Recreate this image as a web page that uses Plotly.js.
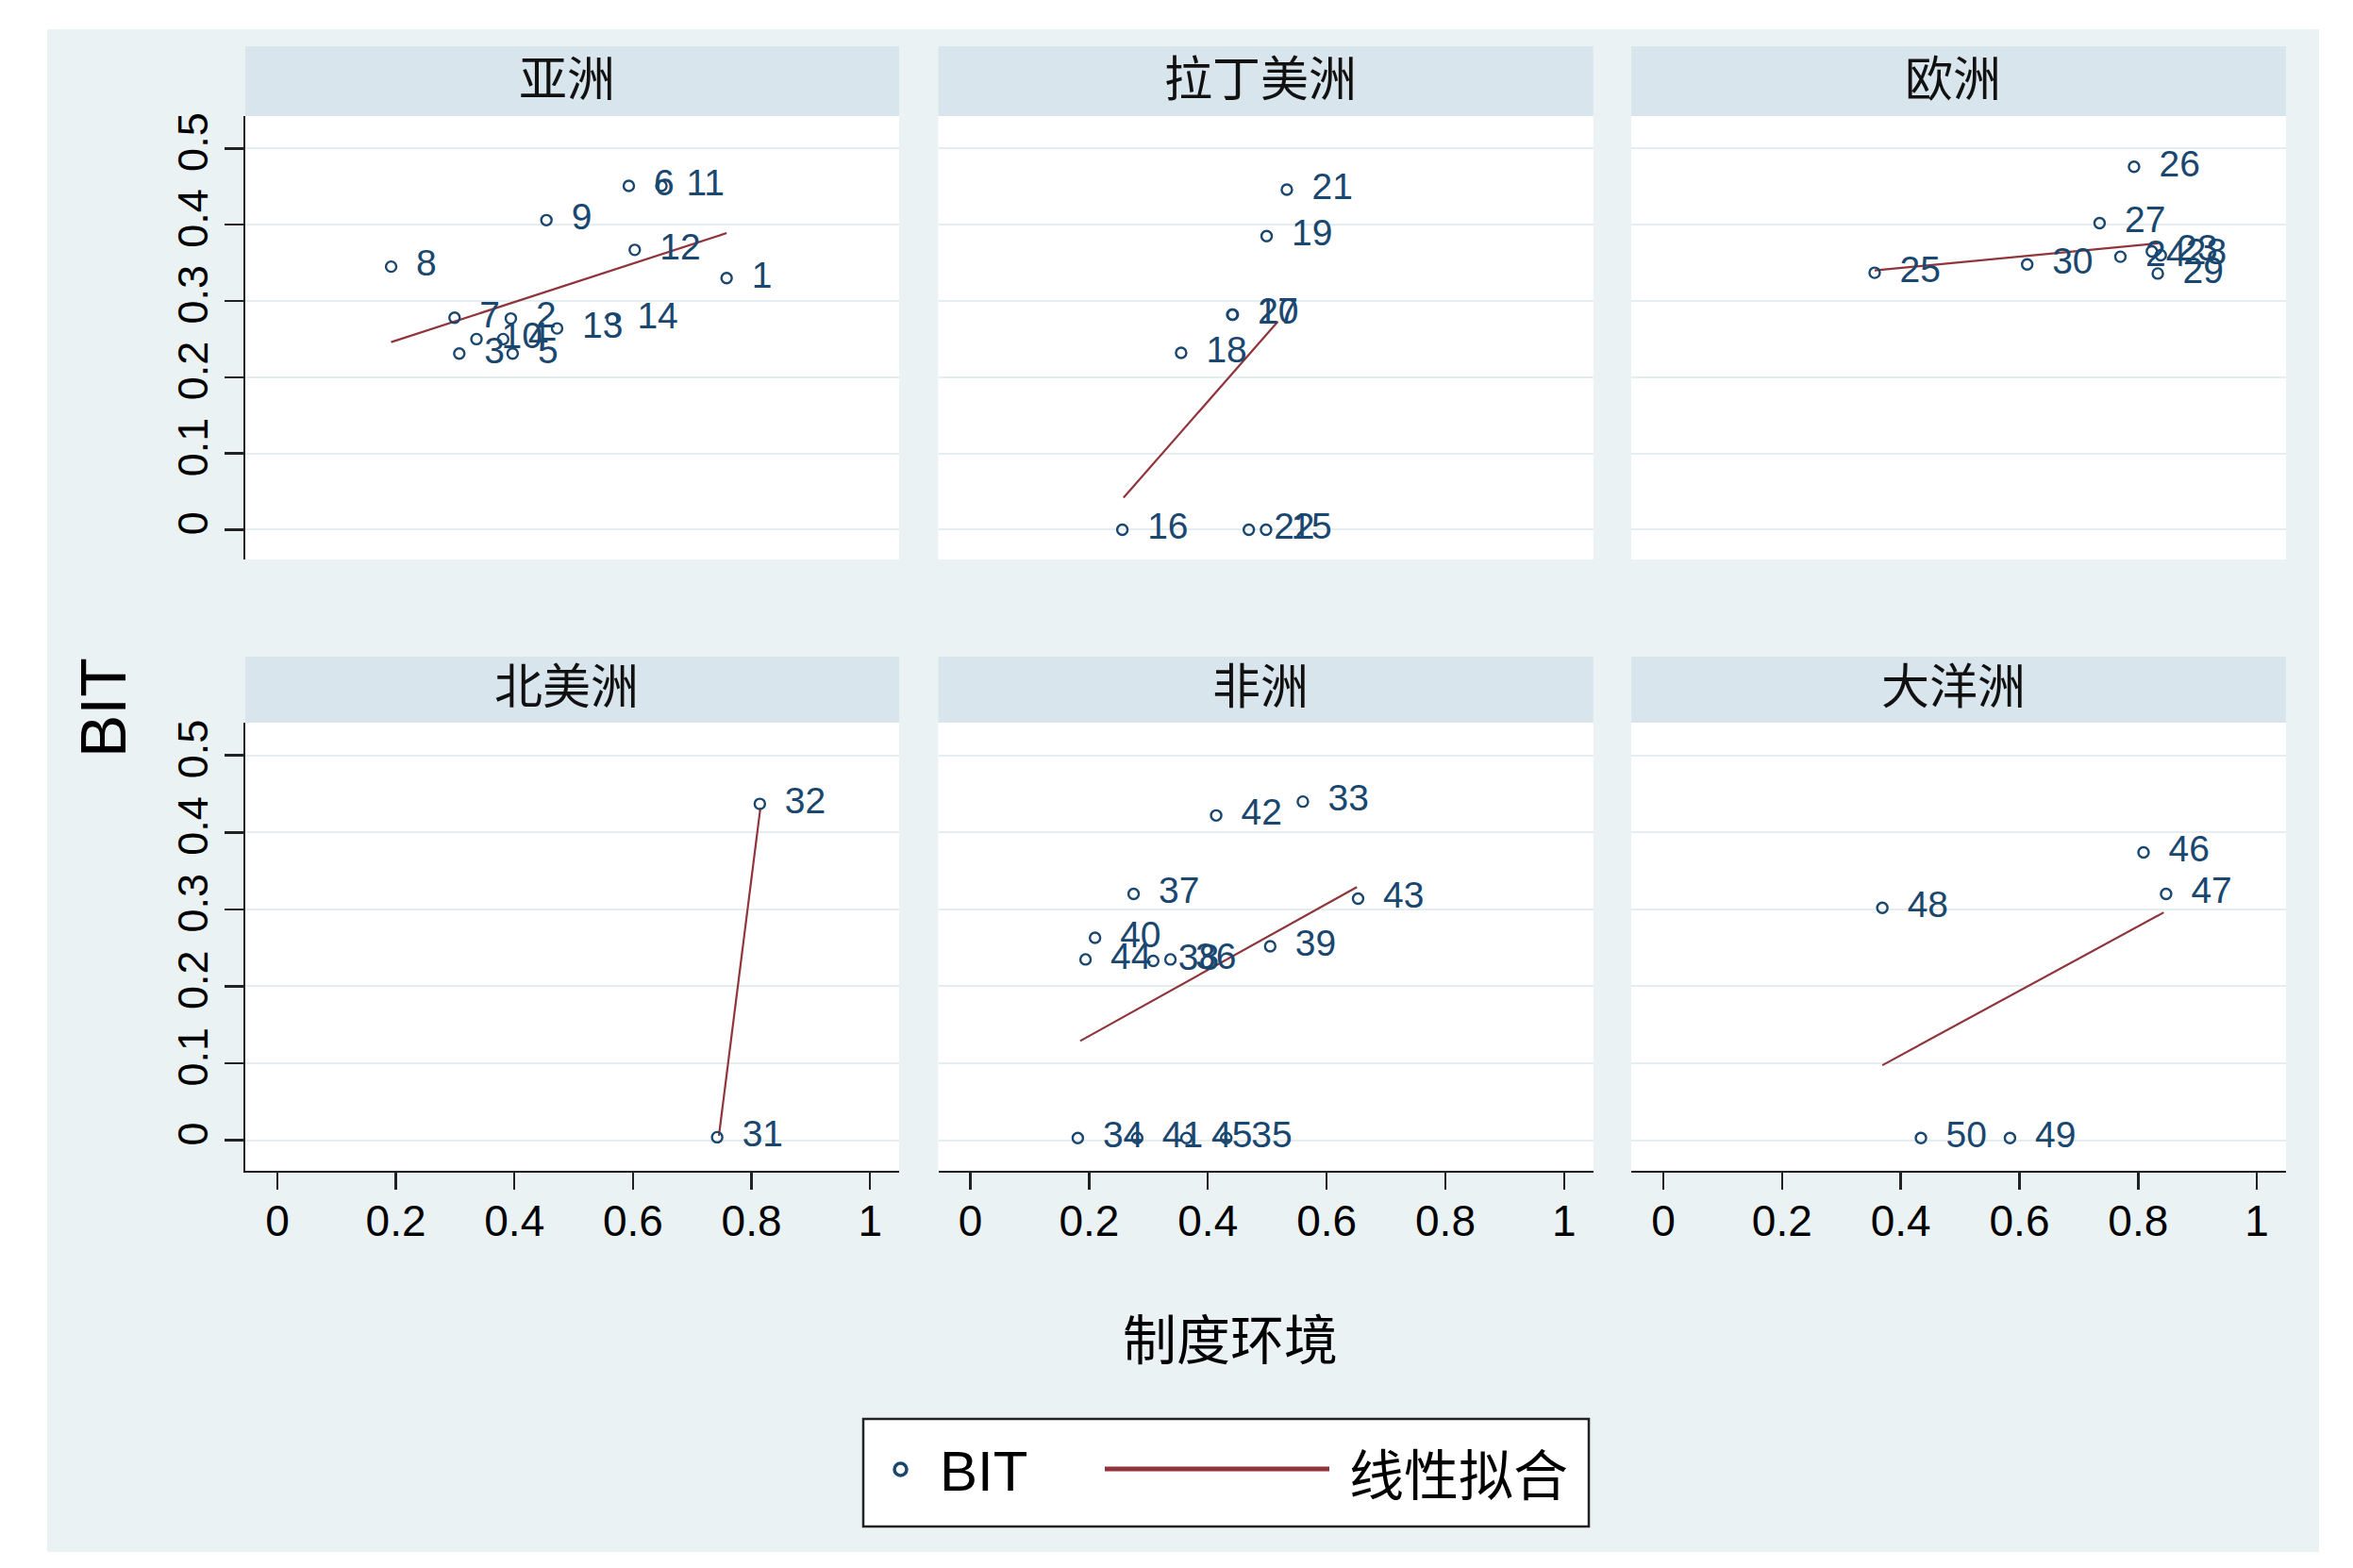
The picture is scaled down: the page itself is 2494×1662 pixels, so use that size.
<!DOCTYPE html>
<html>
<head>
<meta charset="utf-8">
<script src="https://cdn.plot.ly/plotly-3.0.1.min.js"></script>
<style>html,body{margin:0;padding:0;background:#fff;}#chart{width:2494px;height:1662px;}</style>
</head>
<body>
<div id="chart"></div>
<script>
// ---- data ----
const regionNames = ['亚洲', '拉丁美洲', '欧洲', '北美洲', '非洲', '大洋洲'];

const asiaId = [1, 2, 3, 4, 5, 6, 7, 8, 9, 10, 11, 12, 13, 14];
const asiaX  = [0.758, 0.394, 0.307, 0.381, 0.397, 0.593, 0.299, 0.192, 0.454, 0.336, 0.648, 0.603, 0.472, 0.565];
const asiaY  = [0.330, 0.277, 0.231, 0.250, 0.231, 0.451, 0.278, 0.345, 0.406, 0.250, 0.451, 0.367, 0.264, 0.276];

const latamId = [15, 16, 17, 18, 19, 20, 21, 22];
const latamX  = [0.498, 0.256, 0.441, 0.355, 0.499, 0.442, 0.533, 0.469];
const latamY  = [0.000, 0.000, 0.282, 0.232, 0.385, 0.282, 0.446, 0.000];

const europeId = [23, 24, 25, 26, 27, 28, 29, 30];
const europeX  = [0.823, 0.770, 0.356, 0.793, 0.735, 0.838, 0.833, 0.613];
const europeY  = [0.365, 0.358, 0.337, 0.476, 0.402, 0.360, 0.336, 0.348];

const namId = [31, 32];
const namX  = [0.742, 0.814];
const namY  = [0.004, 0.437];

const africaId = [33, 34, 35, 36, 37, 38, 39, 40, 41, 42, 43, 44, 45];
const africaX  = [0.560, 0.181, 0.431, 0.337, 0.275, 0.308, 0.505, 0.210, 0.281, 0.414, 0.653, 0.194, 0.364];
const africaY  = [0.440, 0.003, 0.003, 0.235, 0.320, 0.233, 0.252, 0.263, 0.003, 0.422, 0.314, 0.235, 0.003];

const oceaniaId = [46, 47, 48, 49, 50];
const oceaniaX  = [0.809, 0.847, 0.369, 0.584, 0.434];
const oceaniaY  = [0.374, 0.320, 0.302, 0.003, 0.003];

// linear-fit line end points per region
const fitX = [[0.192, 0.758], [0.258, 0.518], [0.356, 0.838], [0.745, 0.815], [0.185, 0.651], [0.369, 0.843]];
const fitY = [[0.246, 0.389], [0.042, 0.273], [0.340, 0.376], [0.006, 0.432], [0.129, 0.329], [0.0975, 0.296]];

const xTickVals = [0, 0.2, 0.4, 0.6, 0.8, 1];
const xTickText = ['0', '0.2', '0.4', '0.6', '0.8', '1'];
const yTickVals = [0, 0.1, 0.2, 0.3, 0.4, 0.5];
const yTickText = ['0', '0.1', '0.2', '0.3', '0.4', '0.5'];

const xTitle = '制度环境';
const yTitle = 'BIT';
const legendLabels = ['BIT', '线性拟合'];

// ---- styling ----
const W = 2494, H = 1662;
const NAVY = '#1A476F', MAROON = '#90353B';
const OUTER = '#EAF2F3', STRIP = '#D9E5EC', GRID = '#E4EDEF';
const NUMFONT = 'Liberation Sans, Arial, sans-serif';
const CJK = 'Noto Sans CJK SC, sans-serif';

const px = v => v / W;
const py = v => 1 - v / H;

const colPx = [[260, 953], [994.5, 1688.7], [1729, 2423]];
const rowPx = [[123, 593], [766, 1240.5]];
const stripPx = [[49, 123], [696, 766]];

const groups = [
  [asiaId, asiaX, asiaY], [latamId, latamX, latamY], [europeId, europeX, europeY],
  [namId, namX, namY], [africaId, africaX, africaY], [oceaniaId, oceaniaX, oceaniaY]
];

const traces = [];
const layout = {
  width: W, height: H,
  margin: {l: 0, r: 0, t: 0, b: 0},
  paper_bgcolor: OUTER,
  plot_bgcolor: '#ffffff',
  showlegend: false,
  shapes: [], annotations: []
};

groups.forEach((g, i) => {
  const n = i + 1;
  const xa = n === 1 ? 'x' : 'x' + n;
  const ya = n === 1 ? 'y' : 'y' + n;
  const row = i < 3 ? 0 : 1, col = i % 3;
  traces.push({
    type: 'scatter', mode: 'lines', x: fitX[i], y: fitY[i], xaxis: xa, yaxis: ya,
    line: {color: MAROON, width: 2.2}, hoverinfo: 'skip'
  });
  traces.push({
    type: 'scatter', mode: 'markers+text', x: g[1], y: g[2], xaxis: xa, yaxis: ya,
    text: g[0].map(v => '\u00a0\u2009' + v), textposition: 'middle right',
    textfont: {family: NUMFONT, size: 39, color: NAVY},
    marker: {symbol: 'circle-open', size: 11, color: NAVY, line: {width: 2.4, color: NAVY}},
    cliponaxis: false
  });
  const xKey = n === 1 ? 'xaxis' : 'xaxis' + n;
  const yKey = n === 1 ? 'yaxis' : 'yaxis' + n;
  const bottom = row === 1, left = col === 0;
  layout[xKey] = {
    domain: [px(colPx[col][0]), px(colPx[col][1])], anchor: ya,
    range: [-0.054, 1.049], showgrid: false, zeroline: false,
    showline: bottom, linecolor: '#222', linewidth: 2.5,
    ticks: bottom ? 'outside' : '', ticklen: 18, tickwidth: 2.5, tickcolor: '#222',
    showticklabels: bottom, tickvals: xTickVals, ticktext: xTickText, ticklabelstandoff: -6,
    tickfont: {family: NUMFONT, size: 46, color: '#000'}, fixedrange: true
  };
  layout[yKey] = {
    domain: [py(rowPx[row][1]), py(rowPx[row][0])], anchor: xa,
    range: [-0.039, 0.5425], showgrid: true, gridcolor: GRID, gridwidth: 2, zeroline: false,
    showline: left, linecolor: '#222', linewidth: 2.5,
    ticks: left ? 'outside' : '', ticklen: 20, tickwidth: 2.5, tickcolor: '#222',
    showticklabels: left, tickvals: yTickVals, ticktext: yTickText, tickangle: -90,
    tickfont: {family: NUMFONT, size: 45, color: '#000'}, fixedrange: true
  };
  // header strip
  layout.shapes.push({
    type: 'rect', xref: 'paper', yref: 'paper', layer: 'below',
    x0: px(colPx[col][0]), x1: px(colPx[col][1]),
    y0: py(stripPx[row][1]), y1: py(stripPx[row][0]),
    fillcolor: STRIP, line: {width: 0}
  });
  layout.annotations.push({
    xref: 'paper', yref: 'paper', showarrow: false,
    x: px((colPx[col][0] + colPx[col][1]) / 2 - 6), y: py(row === 0 ? 80 : 724),
    xanchor: 'center', yanchor: 'middle',
    text: regionNames[i], font: {family: CJK, size: 51, color: '#111'}
  });
});

// white border around the graph region
[[0, 0, W, 31], [0, 1645, W, H], [0, 0, 50, H], [2458, 0, W, H]].forEach(r => {
  layout.shapes.push({type: 'rect', xref: 'paper', yref: 'paper', layer: 'below',
    x0: px(r[0]), x1: px(r[2]), y0: py(r[3]), y1: py(r[1]), fillcolor: '#ffffff', line: {width: 0}});
});

// axis titles
layout.annotations.push({xref: 'paper', yref: 'paper', showarrow: false, x: px(109), y: py(750),
  xanchor: 'center', yanchor: 'middle', textangle: -90, text: yTitle,
  font: {family: NUMFONT, size: 68, color: '#000'}});
layout.annotations.push({xref: 'paper', yref: 'paper', showarrow: false, x: px(1304), y: py(1416),
  xanchor: 'center', yanchor: 'middle', text: xTitle,
  font: {family: CJK, size: 57, color: '#000'}});

// legend box
layout.shapes.push({type: 'rect', xref: 'paper', yref: 'paper', x0: px(915), x1: px(1684), y0: py(1618), y1: py(1504),
  fillcolor: '#ffffff', line: {color: '#222', width: 2.5}});
layout.shapes.push({type: 'circle', xref: 'paper', yref: 'paper', x0: px(948), x1: px(961), y0: py(1564), y1: py(1551),
  fillcolor: 'rgba(0,0,0,0)', line: {color: NAVY, width: 3.5}});
layout.shapes.push({type: 'line', xref: 'paper', yref: 'paper', x0: px(1171), x1: px(1409), y0: py(1557), y1: py(1557),
  line: {color: MAROON, width: 5}});
layout.annotations.push({xref: 'paper', yref: 'paper', showarrow: false, x: px(994), y: py(1559),
  xanchor: 'left', yanchor: 'middle', text: legendLabels[0], font: {family: NUMFONT, size: 60, color: '#000'}});
layout.annotations.push({xref: 'paper', yref: 'paper', showarrow: false, x: px(1428), y: py(1560),
  xanchor: 'left', yanchor: 'middle', text: legendLabels[1], font: {family: CJK, size: 58, color: '#000'}});

Plotly.newPlot('chart', traces, layout, {displayModeBar: false, staticPlot: true});
</script>
</body>
</html>
